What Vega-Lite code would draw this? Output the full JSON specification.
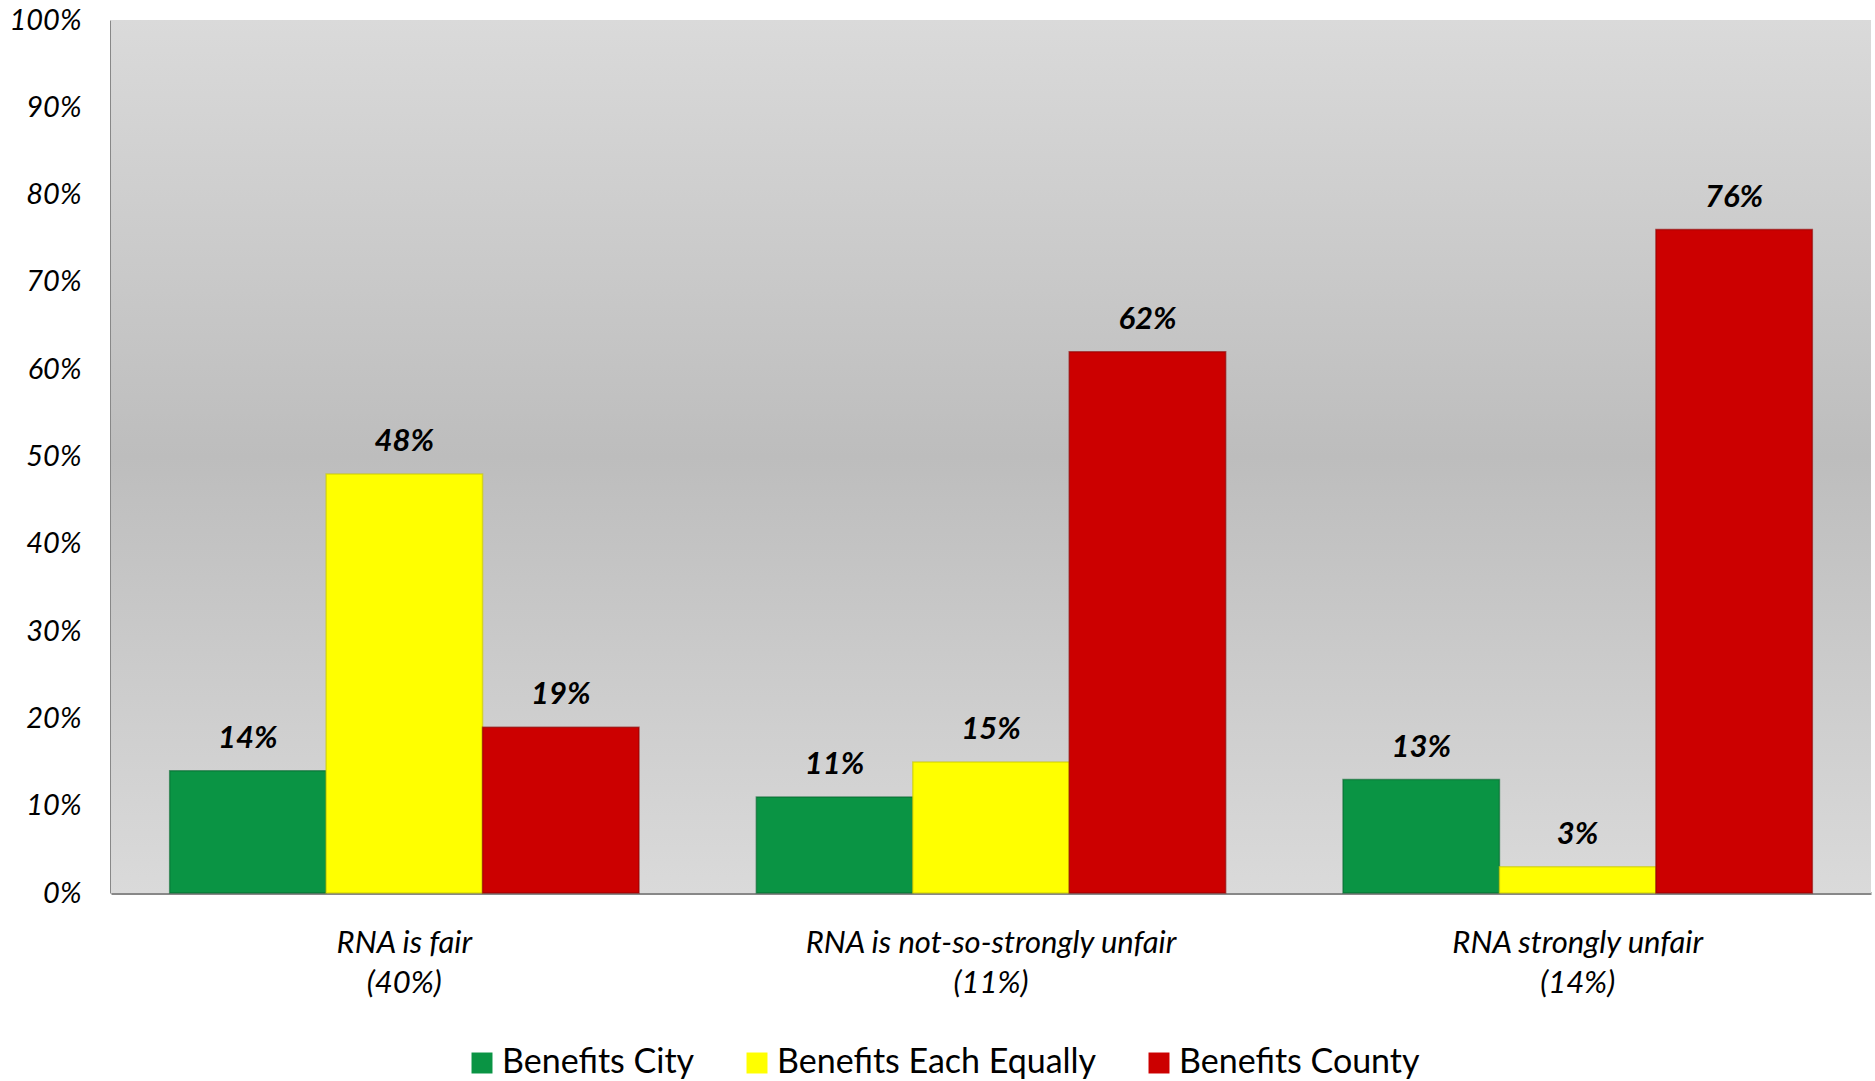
{
  "$schema": "https://vega.github.io/schema/vega-lite/v6.json",
  "width": 1760,
  "height": 873,
  "autosize": "none",
  "padding": {"left": 111, "top": 20, "right": 4, "bottom": 188},
  "background": "white",
  "config": {
    "view": {"stroke": null},
    "font": "Lato"
  },
  "datasets": {
    "bars": [
      {"cat": "RNA is fair|(40%)", "series": "Benefits City", "value": 14},
      {"cat": "RNA is fair|(40%)", "series": "Benefits Each Equally", "value": 48},
      {"cat": "RNA is fair|(40%)", "series": "Benefits County", "value": 19},
      {"cat": "RNA is not-so-strongly unfair|(11%)", "series": "Benefits City", "value": 11},
      {"cat": "RNA is not-so-strongly unfair|(11%)", "series": "Benefits Each Equally", "value": 15},
      {"cat": "RNA is not-so-strongly unfair|(11%)", "series": "Benefits County", "value": 62},
      {"cat": "RNA strongly unfair|(14%)", "series": "Benefits City", "value": 13},
      {"cat": "RNA strongly unfair|(14%)", "series": "Benefits Each Equally", "value": 3},
      {"cat": "RNA strongly unfair|(14%)", "series": "Benefits County", "value": 76}
    ],
    "bg": [{"k": 1}]
  },
  "layer": [
    {
      "data": {"name": "bg"},
      "mark": {
        "type": "rect",
        "color": {
          "gradient": "linear",
          "x1": 0, "y1": 0, "x2": 0, "y2": 1,
          "stops": [
            {"offset": 0, "color": "#dadada"},
            {"offset": 0.5, "color": "#bdbdbd"},
            {"offset": 1, "color": "#dadada"}
          ]
        }
      },
      "encoding": {}
    },
    {
      "data": {"name": "bars"},
      "mark": {"type": "bar", "strokeWidth": 1.5, "strokeOpacity": 0.6},
      "encoding": {
        "x": {
          "field": "cat", "type": "nominal",
          "sort": ["RNA is fair|(40%)", "RNA is not-so-strongly unfair|(11%)", "RNA strongly unfair|(14%)"],
          "scale": {"paddingInner": 0.2, "paddingOuter": 0.1},
          "axis": {
            "title": null,
            "labelAngle": 0,
            "labelExpr": "split(datum.value, '|')",
            "labelFont": "Lato",
            "labelFontStyle": "italic",
            "labelFontSize": 31,
            "labelColor": "#000000",
            "labelLineHeight": 40,
            "labelPadding": 35,
            "labelLimit": 0,
            "ticks": false,
            "domainColor": "#888888",
            "domainWidth": 3
          }
        },
        "xOffset": {
          "field": "series", "type": "nominal",
          "sort": ["Benefits City", "Benefits Each Equally", "Benefits County"],
          "scale": {"paddingInner": 0, "paddingOuter": 0}
        },
        "y": {
          "field": "value", "type": "quantitative",
          "scale": {"domain": [0, 100], "nice": false},
          "axis": {
            "title": null,
            "values": [0, 10, 20, 30, 40, 50, 60, 70, 80, 90, 100],
            "labelExpr": "datum.value + '%'",
            "labelFont": "Lato",
            "labelFontStyle": "italic",
            "labelFontSize": 29,
            "labelColor": "#000000",
            "labelPadding": 30,
            "ticks": false,
            "grid": false,
            "domainColor": "#888888",
            "domainWidth": 3
          }
        },
        "color": {
          "field": "series", "type": "nominal",
          "sort": ["Benefits City", "Benefits Each Equally", "Benefits County"],
          "scale": {
            "domain": ["Benefits City", "Benefits Each Equally", "Benefits County"],
            "range": ["#0a9444", "#ffff00", "#cc0000"]
          },
          "legend": {
            "title": null,
            "orient": "none",
            "direction": "horizontal",
            "legendX": 354,
            "legendY": 1026,
            "symbolType": "square",
            "symbolSize": 440,
            "symbolStrokeWidth": 0,
            "labelFont": "Lato",
            "labelFontSize": 34,
            "labelColor": "#000000",
            "labelOffset": 3,
            "labelLimit": 0,
            "columnPadding": 45
          }
        },
        "stroke": {
          "field": "series", "type": "nominal",
          "scale": {
            "domain": ["Benefits City", "Benefits Each Equally", "Benefits County"],
            "range": ["#06682f", "#c8c800", "#8f0000"]
          },
          "legend": null
        }
      }
    },
    {
      "data": {"name": "bars"},
      "transform": [{"calculate": "datum.value + '%'", "as": "label"}],
      "mark": {"type": "text", "baseline": "middle", "dy": -32, "fontSize": 31, "fontWeight": "bold", "fontStyle": "italic", "font": "Lato", "color": "#000000"},
      "encoding": {
        "x": {"field": "cat", "type": "nominal", "sort": ["RNA is fair|(40%)", "RNA is not-so-strongly unfair|(11%)", "RNA strongly unfair|(14%)"]},
        "xOffset": {"field": "series", "type": "nominal", "sort": ["Benefits City", "Benefits Each Equally", "Benefits County"]},
        "y": {"field": "value", "type": "quantitative"},
        "text": {"field": "label", "type": "nominal"}
      }
    }
  ]
}
